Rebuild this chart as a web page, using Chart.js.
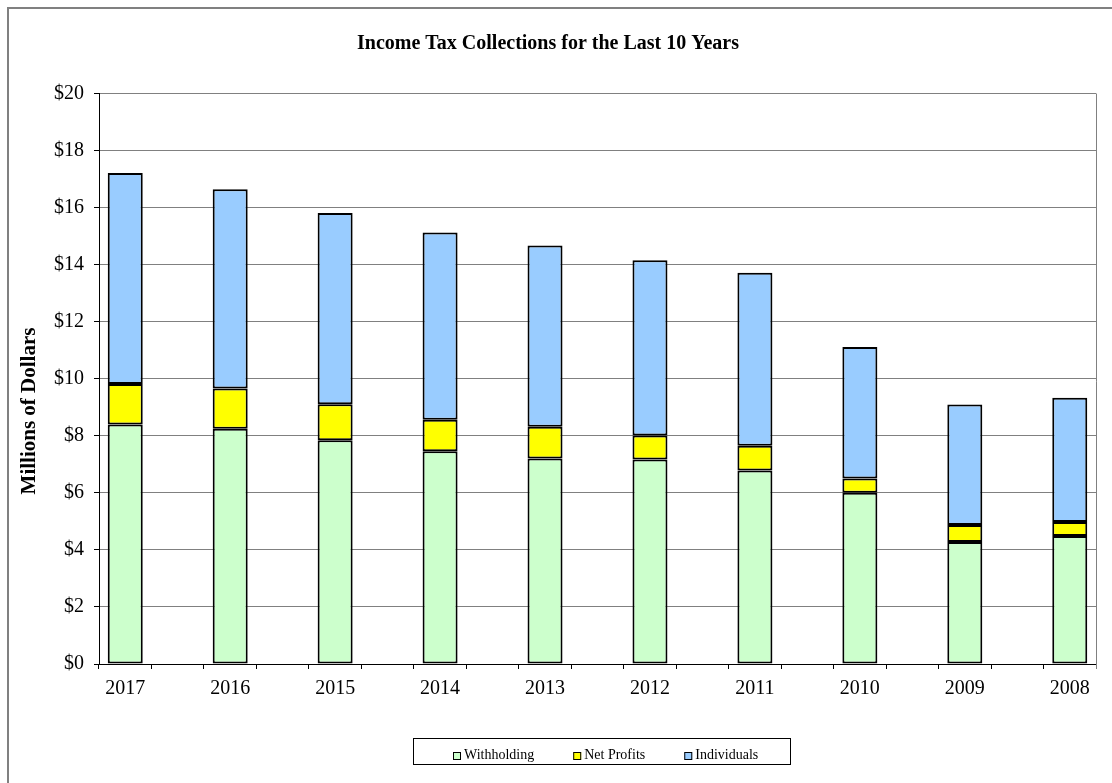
<!DOCTYPE html>
<html>
<head>
<meta charset="utf-8">
<title>Income Tax Collections</title>
<script src="https://cdn.jsdelivr.net/npm/chart.js@4/dist/chart.umd.min.js"></script>
<style>
  body { margin: 0; background: #fff; overflow: hidden; }
  #wrap { width: 1112px; height: 783px; }
</style>
</head>
<body>
<div id="wrap"><canvas id="taxChart" width="1112" height="783"></canvas></div>
<script>
/* DATA (millions of dollars) */
const years = ["2017", "2016", "2015", "2014", "2013", "2012", "2011", "2010", "2009", "2008"];
const withholding = [8.40, 8.25, 7.84, 7.46, 7.20, 7.17, 6.78, 6.00, 4.28, 4.49];
const netProfits = [1.42, 1.41, 1.27, 1.10, 1.12, 0.84, 0.87, 0.50, 0.59, 0.49];
const individuals = [7.39, 6.98, 6.70, 6.57, 6.35, 6.14, 6.07, 4.61, 4.23, 4.35];
const yTicks = [0, 2, 4, 6, 8, 10, 12, 14, 16, 18, 20];

const serif = "'Liberation Serif', 'Times New Roman', serif";

// excel style: an empty slot between every year
const labels = [];
const spread = (arr) => {
  const out = [];
  arr.forEach((v, i) => {
    out.push(v);
    if (i < arr.length - 1) out.push(null);
  });
  return out;
};
years.forEach((y, i) => {
  labels.push(y);
  if (i < years.length - 1) labels.push("");
});

/* frame, right edge, y title, boxed legend */
const decor = {
  id: "decor",
  beforeDraw(chart) {
    const ctx = chart.ctx;
    ctx.save();
    ctx.fillStyle = "#808080";
    ctx.fillRect(7, 7, 2, 776);
    ctx.fillRect(7, 7, 1105, 2);
    ctx.restore();
  },
  beforeDatasetsDraw(chart) {
    const ctx = chart.ctx;
    const a = chart.chartArea;
    ctx.save();
    ctx.strokeStyle = "#808080";
    ctx.lineWidth = 1;
    ctx.beginPath();
    ctx.moveTo(Math.round(a.right) + 0.5, a.top);
    ctx.lineTo(Math.round(a.right) + 0.5, a.bottom + 5);
    ctx.stroke();
    ctx.restore();
  },
  afterDraw(chart) {
    const ctx = chart.ctx;
    ctx.save();
    // y axis title
    ctx.translate(30, 411);
    ctx.rotate(-Math.PI / 2);
    ctx.font = "bold 21px " + serif;
    ctx.fillStyle = "#000";
    ctx.textAlign = "center";
    ctx.textBaseline = "middle";
    ctx.fillText("Millions of Dollars", 0, 0);
    ctx.restore();

    // legend
    ctx.save();
    ctx.strokeStyle = "#000";
    ctx.lineWidth = 1;
    ctx.strokeRect(413.5, 738.5, 377, 26);
    ctx.font = "14px " + serif;
    ctx.textBaseline = "alphabetic";
    let x = 453;
    chart.data.datasets.forEach((ds) => {
      ctx.fillStyle = ds.backgroundColor;
      ctx.fillRect(x, 752, 8, 8);
      ctx.strokeRect(x + 0.5, 752.5, 7, 7);
      ctx.fillStyle = "#000";
      ctx.fillText(ds.label, x + 11, 759);
      x += 11 + ctx.measureText(ds.label).width + 39;
    });
    ctx.restore();
  },
};

const ctx = document.getElementById("taxChart").getContext("2d");
new Chart(ctx, {
  type: "bar",
  data: {
    labels: labels,
    datasets: [
      { label: "Withholding", data: spread(withholding), backgroundColor: "#CCFFCC" },
      { label: "Net Profits", data: spread(netProfits), backgroundColor: "#FFFF00" },
      { label: "Individuals", data: spread(individuals), backgroundColor: "#99CCFF" },
    ].map((d) => ({
      ...d,
      borderColor: "#000",
      borderWidth: 2,
      borderSkipped: false,
      categoryPercentage: 1,
      barPercentage: 0.667,
    })),
  },
  options: {
    responsive: false,
    animation: false,
    layout: { padding: { left: 0, right: 16, top: 0, bottom: 0 } },
    plugins: {
      legend: { display: false },
      tooltip: { enabled: false },
      title: {
        display: true,
        text: "Income Tax Collections for the Last 10 Years",
        color: "#000",
        font: { family: serif, size: 20, weight: "bold" },
        padding: { top: 32, bottom: 37.5 },
      },
    },
    scales: {
      x: {
        stacked: true,
        grid: { drawOnChartArea: false, offset: true, tickLength: 5, tickColor: "#000" },
        border: { color: "#000", width: 1 },
        ticks: {
          autoSkip: false,
          maxRotation: 0,
          padding: 8,
          color: "#000",
          font: { family: serif, size: 20 },
        },
        afterFit: (scale) => { scale.height = 119; },
      },
      y: {
        stacked: true,
        min: yTicks[0],
        max: yTicks[yTicks.length - 1],
        afterBuildTicks: (scale) => { scale.ticks = yTicks.map((v) => ({ value: v })); },
        grid: { color: "#808080", tickLength: 5, tickColor: "#000" },
        border: { color: "#000", width: 1 },
        ticks: {
          padding: 10,
          color: "#000",
          font: { family: serif, size: 20 },
          callback: (v) => "$" + v,
        },
        afterFit: (scale) => { scale.width = 99; },
      },
    },
  },
  plugins: [decor],
});
</script>
</body>
</html>
